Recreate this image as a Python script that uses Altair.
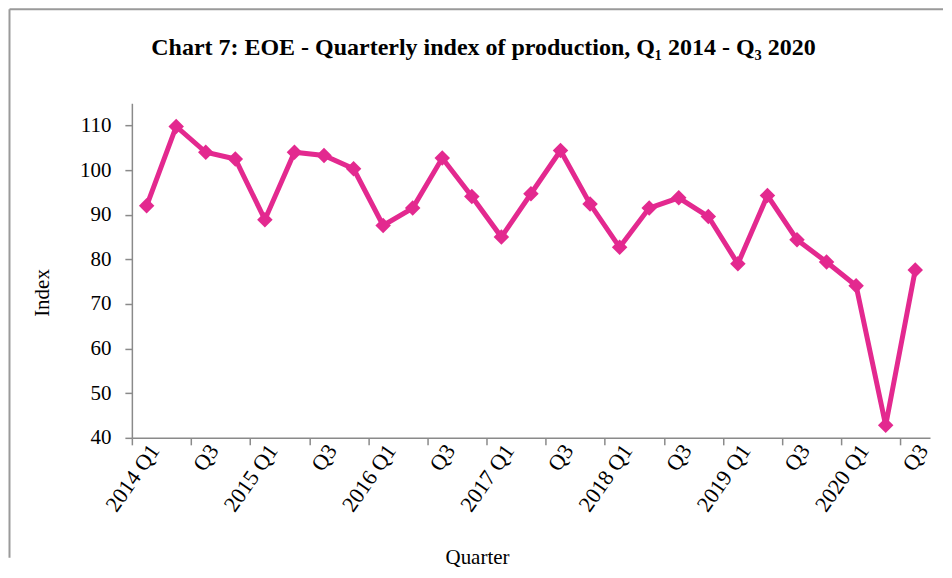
import altair as alt
import pandas as pd

years = ["2014", "2015", "2016", "2017", "2018", "2019", "2020"]
quarters = ["Q1", "Q2", "Q3", "Q4"]
categories = [f"{y} {q}" for y in years for q in quarters][:27]
index_values = [92.0, 109.8, 104.0, 102.5, 88.9, 104.0, 103.3, 100.3, 87.6, 91.5,
                102.7, 94.1, 85.0, 94.7, 104.4, 92.4, 82.7, 91.5, 93.8, 89.6,
                79.0, 94.3, 84.4, 79.4, 74.1, 42.8, 77.6]
y_ticks = [40, 50, 60, 70, 80, 90, 100, 110]
chart_title = ["Chart 7: EOE - Quarterly index of production,  Q\u2081 2014 - Q\u2083 2020"]
x_title = ["Quarter"]
y_title = ["Index"]

positions = list(range(len(categories)))
df = pd.DataFrame({"pos": positions, "Quarter": categories, "Value": index_values})

# tick labels: full label on Q1, "Q3" on Q3, none on Q2/Q4
lab_rows = []
for p, c in zip(positions, categories):
    if c.endswith("Q1"):
        lab_rows.append({"pos": p, "lab": c})
    elif c.endswith("Q3"):
        lab_rows.append({"pos": p, "lab": "Q3"})
lab_df = pd.DataFrame(lab_rows)
boundaries = [p - 0.5 for p in positions] + [positions[-1] + 0.5]

title_df = pd.DataFrame({"t": chart_title})
xt_df = pd.DataFrame({"t": x_title})
yt_df = pd.DataFrame({"t": y_title})

FONT = "Liberation Serif"
PINK = "#E3298F"
GREY = "#8A8A8A"

x_scale = alt.Scale(domain=[boundaries[0], boundaries[-1]], nice=False, zero=False)
x = alt.X("pos:Q", title=None, scale=x_scale,
          axis=alt.Axis(values=boundaries, labels=False, tickSize=7,
                        tickColor=GREY, tickWidth=1.5, domainColor=GREY,
                        domainWidth=1.5, grid=False))
y = alt.Y("Value:Q", title=None,
          scale=alt.Scale(domain=[40, 115], nice=False, zero=False),
          axis=alt.Axis(values=y_ticks, labelFont=FONT,
                        labelFontSize=21, labelColor="black", labelPadding=14,
                        tickSize=7, tickColor=GREY, tickWidth=1.5,
                        domainColor=GREY, domainWidth=1.5, grid=False))

line = alt.Chart(df).mark_line(color=PINK, strokeWidth=5).encode(x=x, y=y)
points = alt.Chart(df).mark_point(shape="diamond", filled=True, color=PINK,
                                  size=240, opacity=1).encode(x=x, y=y)

tick_labels = alt.Chart(lab_df).transform_calculate(
    lx="datum.pos + 0.27").mark_text(
    font=FONT, fontSize=22, color="black", align="right",
    baseline="middle", angle=305).encode(
    x=alt.X("lx:Q", scale=x_scale), y=alt.value(344), text="lab:N")

title_mark = alt.Chart(title_df).mark_text(
    font=FONT, fontSize=24, fontWeight="bold", color="black",
    align="center", baseline="middle").encode(
    text="t:N", x=alt.value(352), y=alt.value(-55))
x_title_mark = alt.Chart(xt_df).mark_text(
    font=FONT, fontSize=21, color="black", align="center",
    baseline="middle").encode(text="t:N", x=alt.value(346), y=alt.value(455))
y_title_mark = alt.Chart(yt_df).mark_text(
    font=FONT, fontSize=21, color="black", align="center",
    baseline="middle", angle=270).encode(
    text="t:N", x=alt.value(-89), y=alt.value(190))

top_border = alt.Chart(title_df).mark_rule(color="#9A9A9A", strokeWidth=2).encode(
    x=alt.value(-122.5), x2=alt.value(812), y=alt.value(-94))
left_border = alt.Chart(title_df).mark_rule(color="#9A9A9A", strokeWidth=2).encode(
    x=alt.value(-122.5), y=alt.value(-94), y2=alt.value(455))

chart = alt.layer(top_border, left_border, title_mark, x_title_mark,
                  y_title_mark, tick_labels, line, points).properties(
    width=799, height=335, padding=0,
).configure_view(stroke=None)

chart.save("out.html", embed_options={"renderer": "svg", "actions": False})
